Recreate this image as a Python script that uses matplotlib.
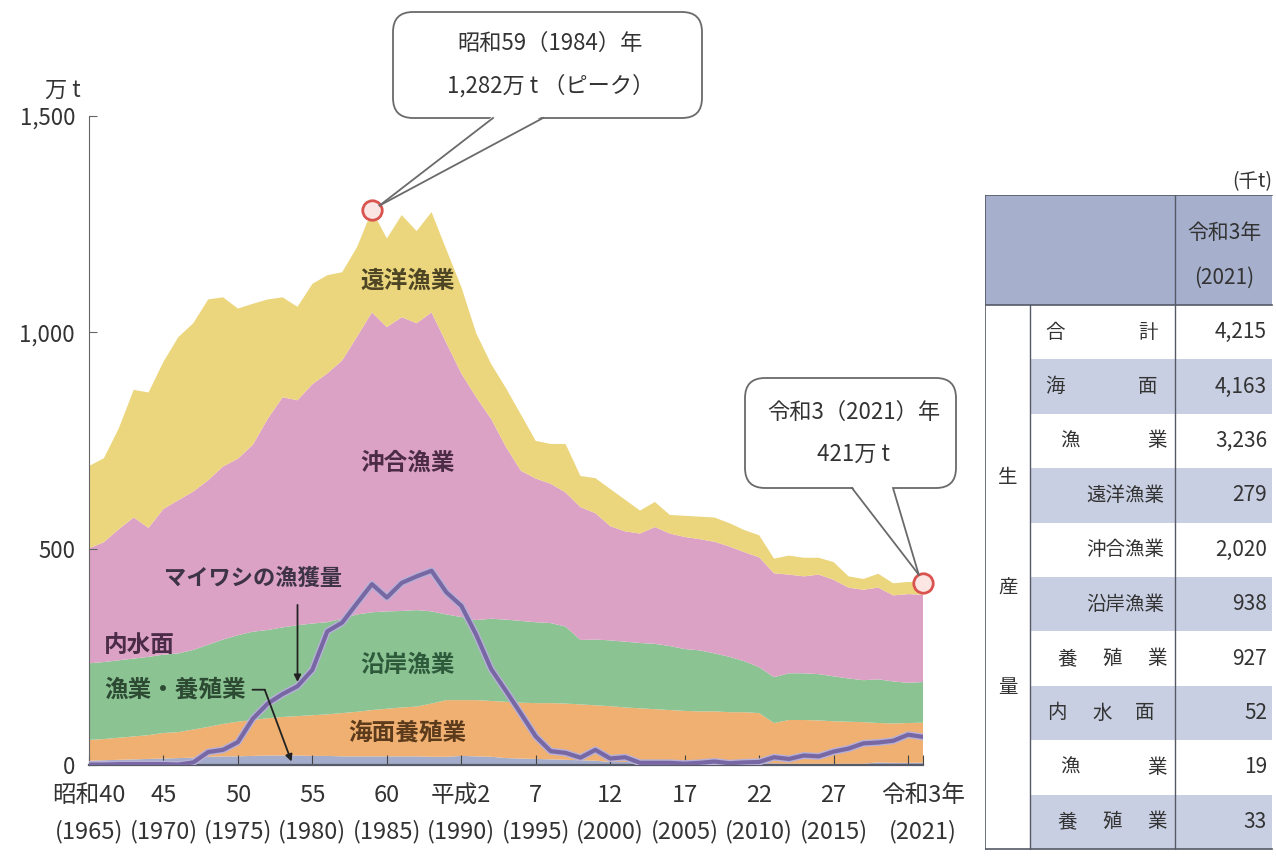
import matplotlib

matplotlib.use("Agg")
import numpy as np
import matplotlib.pyplot as plt
import matplotlib.patheffects as pe
from matplotlib.patches import FancyBboxPatch, Rectangle, Polygon
from matplotlib.transforms import IdentityTransform

plt.rcParams["font.family"] = ["Noto Sans CJK JP", "DejaVu Sans"]

# ---- data (万t) ----
years = list(range(1965, 2022))

inland = [10, 11, 12, 13, 14, 15, 16, 17, 19, 20,
          20, 21, 22, 22, 22, 21, 21, 20, 20, 20,
          20, 20, 20, 19, 19, 21, 20, 19, 16, 15,
          14, 13, 12, 11, 10, 7, 7, 6, 6, 6,
          5, 5, 5, 5, 5, 4, 4, 3, 3, 3,
          3, 3, 3, 6, 5, 5, 5.2]
aquaculture = [48, 49, 51, 53, 55, 59, 60, 65, 69, 75,
               80, 83, 86, 89, 91, 94, 96, 100, 103, 107,
               110, 113, 115, 123, 131, 129, 130, 129, 130, 129,
               129, 130, 130, 129, 128, 129, 126, 125, 123, 121,
               120, 119, 119, 117, 117, 116, 93, 101, 101, 100,
               98, 97, 96, 91, 91, 92, 92.7]
coastal = [177, 178, 179, 180, 181, 181, 182, 184, 190, 195,
           200, 204, 204, 207, 210, 212, 213, 218, 225, 226,
           225, 223, 223, 213, 198, 192, 185, 190, 190, 189,
           187, 185, 178, 149, 152, 152, 152, 151, 151, 148,
           143, 141, 134, 128, 118, 106, 106, 108, 108, 107,
           104, 100, 97, 101, 97, 93, 93.8]
offshore = [266, 277, 303, 326, 298, 337, 354, 366, 380, 400,
            408, 432, 488, 532, 520, 553, 575, 597, 642, 693,
            657, 679, 663, 691, 627, 563, 515, 462, 399, 347,
            332, 322, 310, 307, 292, 264, 255, 253, 270, 260,
            259, 257, 258, 255, 252, 254, 240, 228, 224, 230,
            223, 210, 209, 212, 199, 205, 202.0]
distant = [190, 194, 233, 295, 313, 340, 377, 389, 418, 391,
           347, 326, 276, 231, 216, 232, 227, 204, 207, 236,
           205, 236, 213, 232, 216, 200, 148, 127, 136, 130,
           87, 92, 112, 72, 81, 86, 73, 53, 58, 43,
           49, 52, 56, 54, 51, 51, 34, 44, 43, 39,
           41, 26, 25, 32, 28, 28, 27.9]
sardine = [1, 1, 2, 2, 2, 2, 1, 6, 30, 35,
           53, 107, 142, 164, 182, 220, 309, 329, 374, 418,
           387, 421, 436, 449, 399, 368, 301, 222, 171, 119,
           66, 32, 28, 17, 35, 15, 18, 5, 5, 5,
           3, 5, 8, 4, 6, 7, 18, 14, 22, 20,
           31, 38, 50, 52, 56, 70, 65]

x_ticks = [1965, 1970, 1975, 1980, 1985, 1990, 1995, 2000, 2005, 2010, 2015, 2020, 2021]
x_labels = ["昭和40\n(1965)", "45\n(1970)", "50\n(1975)", "55\n(1980)", "60\n(1985)",
            "平成2\n(1990)", "7\n(1995)", "12\n(2000)", "17\n(2005)", "22\n(2010)",
            "27\n(2015)", "", "令和3年\n(2021)"]
y_ticks = [0, 500, 1000, 1500]
y_labels = ["0", "500", "1,000", "1,500"]

table_labels = ["合計", "海面", "漁業", "遠洋漁業", "沖合漁業", "沿岸漁業",
                "養殖業", "内水面", "漁業", "養殖業"]
table_values = ["4,215", "4,163", "3,236", "279", "2,020", "938", "927", "52", "19", "33"]

C_IN = "#a3acca"
C_AQ = "#efb071"
C_CO = "#8bc393"
C_OF = "#dca2c6"
C_DI = "#ebd67e"
C_SAR = "#7768a3"
TXT = "#333333"
W, H = 1276, 857

fig = plt.figure(figsize=(W / 100, H / 100), dpi=100)
ax = fig.add_axes([89 / W, (H - 765) / H, (923 - 89) / W, (765 - 116) / H])

ax.stackplot(years, inland, aquaculture, coastal, offshore, distant,
             colors=[C_IN, C_AQ, C_CO, C_OF, C_DI], linewidth=0)
ax.plot(years, sardine, color=C_SAR, lw=3.0, solid_joinstyle="round",
        path_effects=[pe.Stroke(linewidth=5.0, foreground="#b8b0d8"), pe.Normal()],
        zorder=4)

totals = [a + b + c + d + e for a, b, c, d, e in zip(inland, aquaculture, coastal, offshore, distant)]
i84 = years.index(1984)
ax.plot([years[i84], years[-1]], [totals[i84], totals[-1]], "o", ms=14, mfc="#fbe6e4",
        mec="#d9534f", mew=2, zorder=12, clip_on=False)

ax.set_xlim(1965, 2021)
ax.set_ylim(0, 1500)
for s in ["top", "right"]:
    ax.spines[s].set_visible(False)
ax.spines["left"].set_color("#666666")
ax.spines["bottom"].set_color("#555a66")
ax.spines["bottom"].set_linewidth(1.6)
ax.set_xticks(x_ticks)
ax.set_xticklabels(x_labels, fontsize=17, color=TXT, linespacing=1.65)
ax.set_yticks(y_ticks)
ax.set_yticklabels(y_labels, fontsize=16, color=TXT)
ax.tick_params(axis="x", direction="in", length=7, color="#444444", pad=14)
ax.tick_params(axis="y", direction="in", length=6, color="#666666", pad=10)
ax.text(-0.01, 1.022, "万 t", transform=ax.transAxes, ha="right", va="bottom",
        fontsize=16, color=TXT)

# area labels
lab = dict(fontsize=17, fontweight="bold", ha="center", va="center", zorder=6)
ax.text(1986.4, 1119, "遠洋漁業", color="#4d4524", **lab)
ax.text(1986.4, 698, "沖合漁業", color="#4b2b45", **lab)
ax.text(1986.4, 231, "沿岸漁業", color="#2d5a3a", **lab)
ax.text(1986.4, 74, "海面養殖業", color="#5b3b1c", **lab)
ax.text(1976.0, 432, "マイワシの漁獲量", color="#3d3345", fontsize=16, fontweight="bold",
        ha="center", va="center", zorder=6)
ax.text(1966.0, 277, "内水面", color="#4a2b48", fontsize=17, fontweight="bold",
        ha="left", va="center", zorder=6)

# leader lines
elbow = (1976.8, 174)
ax.annotate("漁業・養殖業", xy=elbow, xytext=(1966.0, 174), ha="left", va="center",
            fontsize=17, fontweight="bold", color="#2d4a33", zorder=6,
            arrowprops=dict(arrowstyle="-", color="#222222", lw=1.3, relpos=(1, 0.5),
                            shrinkA=3, shrinkB=0))
ax.annotate("", xy=(1978.6, 8), xytext=elbow,
            arrowprops=dict(arrowstyle="-|>,head_length=0.4,head_width=0.2", color="#222222",
                            lw=1.3, shrinkA=0, shrinkB=0), zorder=6)
i79 = years.index(1979)
ax.annotate("", xy=(1979, sardine[i79] + 10), xytext=(1979, 370),
            arrowprops=dict(arrowstyle="-|>,head_length=0.4,head_width=0.2", color="#222222",
                            lw=1.3, shrinkA=0, shrinkB=0), zorder=6)

# callouts with speech-bubble tails
px = IdentityTransform()


def callout(x0, top, w, h, lines, base, tip_data):
    bottom = H - top - h
    box = FancyBboxPatch((x0, bottom), w, h, boxstyle="round,pad=0,rounding_size=20",
                         transform=px, fc="white", ec="#6a6a6a", lw=1.3, zorder=20,
                         clip_on=False)
    ax.add_patch(box)
    tip = np.array(ax.transData.transform(tip_data))
    mid = np.array([(base[0] + base[1]) / 2, bottom])
    d = mid - tip
    tip = tip + d / np.hypot(*d) * 9
    tail = Polygon([(base[0], bottom + 2), tuple(tip), (base[1], bottom + 2)], closed=True,
                   transform=px, fc="white", ec="none", zorder=21, clip_on=False)
    ax.add_patch(tail)
    for bx in base:
        ax.plot([bx, tip[0]], [bottom, tip[1]], transform=px, color="#6a6a6a", lw=1.3,
                zorder=22, clip_on=False)
    ax.text(x0 + w / 2 + 3, bottom + h / 2, lines, transform=px, ha="center", va="center",
            fontsize=16, color=TXT, linespacing=2.05, zorder=23)


callout(393, 12, 309, 106, "昭和59（1984）年\n1,282万 t （ピーク）", (493, 543),
        (years[i84], totals[i84]))
callout(745, 378, 211, 110, "令和3（2021）年\n421万 t", (852, 893),
        (years[-1], totals[-1]))

# ---- table on the right ----
tx = fig.add_axes([985 / W, (H - 850) / H, (W - 985) / W, (850 - 195) / H])
tx.set_xlim(985, W)
tx.set_ylim(850, 195)
tx.axis("off")
HEAD = "#a6b0cd"
SHADE = "#c9cfe3"
LINE = "#555a66"
row_top = 305
row_h = 54.4
tx.add_patch(Rectangle((985, 195), 1272 - 985, row_top - 195, fc=HEAD, ec="none"))
for i in range(len(table_labels)):
    y0 = row_top + i * row_h
    if i % 2 == 1:
        tx.add_patch(Rectangle((1030, y0), 1272 - 1030, row_h, fc=SHADE, ec="none"))
tx.plot([985, 1272], [195, 195], color=LINE, lw=1.2)
tx.plot([985, 1272], [row_top, row_top], color=LINE, lw=1.2)
tx.plot([985, 1272], [849, 849], color=LINE, lw=1.2)
tx.plot([985, 985], [195, 849], color=LINE, lw=1.2)
tx.plot([1030, 1030], [row_top, 849], color=LINE, lw=1.0)
tx.plot([1175, 1175], [195, 849], color=LINE, lw=1.0)
tx.text(1272, 182, "(千t)", ha="right", va="center", fontsize=14, color=TXT)
tx.text(1224, 233, "令和3年", ha="center", va="center", fontsize=15, color=TXT)
tx.text(1224, 278, "(2021)", ha="center", va="center", fontsize=15, color=TXT)
for ch, yy in zip("生産量", [478, 588, 688]):
    tx.text(1008, yy, ch, ha="center", va="center", fontsize=14, color=TXT)

spread = {0: [1055, 1148], 1: [1055, 1148], 2: [1070, 1157], 6: [1067, 1112, 1157],
          7: [1057, 1102, 1145], 8: [1070, 1157], 9: [1067, 1112, 1157]}
for i, (label, val) in enumerate(zip(table_labels, table_values)):
    yc = row_top + (i + 0.5) * row_h
    if i in spread:
        for ch, xx in zip(label, spread[i]):
            tx.text(xx, yc, ch, ha="center", va="center", fontsize=14, color=TXT)
    else:
        tx.text(1164, yc, label, ha="right", va="center", fontsize=14, color=TXT)
    tx.text(1267, yc, val, ha="right", va="center", fontsize=15, color=TXT)

fig.savefig("out.png", dpi=100)
